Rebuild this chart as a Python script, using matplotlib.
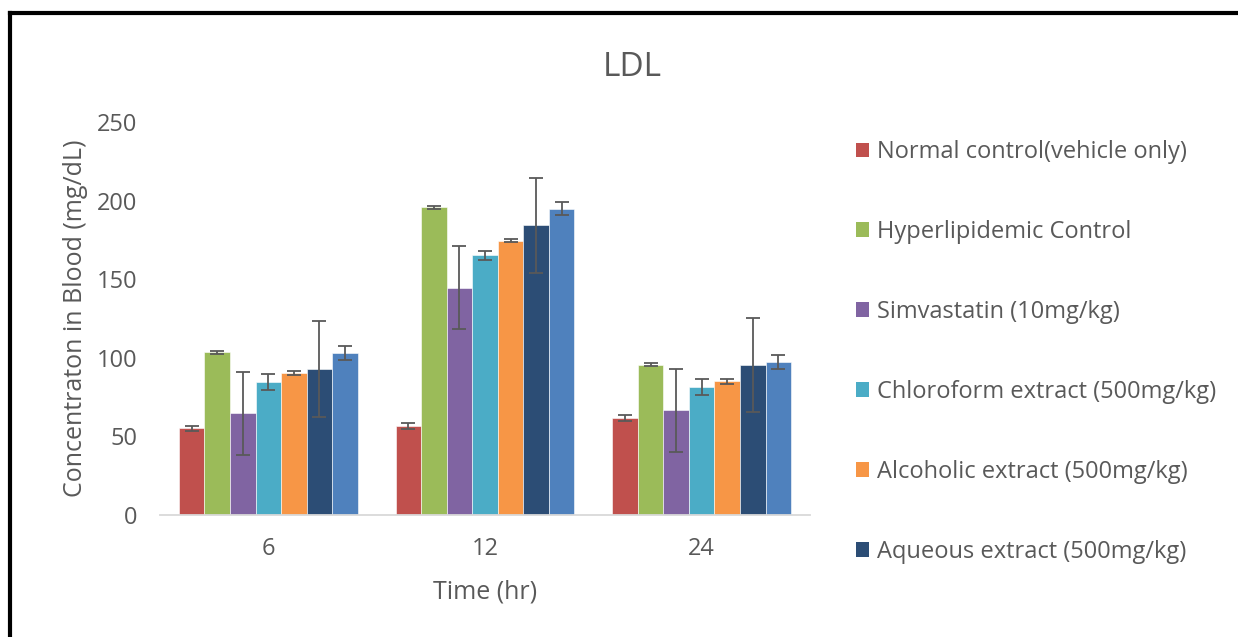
import numpy as np
import matplotlib.pyplot as plt
from matplotlib.patches import Patch
from matplotlib.lines import Line2D

plt.rcParams['font.family'] = ['Open Sans', 'DejaVu Sans']

times = ['6', '12', '24']
series_labels = [
    'Normal control(vehicle only)',
    'Hyperlipidemic Control',
    'Simvastatin (10mg/kg)',
    'Chloroform extract (500mg/kg)',
    'Alcoholic extract (500mg/kg)',
    'Aqueous extract (500mg/kg)',
]
colors = ['#C0504D', '#9BBB59', '#8064A2', '#4BACC6', '#F79646', '#2C4D75', '#4F81BD']

# mean LDL per group at 6, 12, 24 hr
normal = [55.2, 56.6, 61.5]
hyper = [103.5, 195.7, 95.6]
simva = [64.7, 144.7, 66.6]
chloro = [84.8, 165.1, 81.4]
alcohol = [90.1, 174.4, 85.0]
aqueous = [92.9, 184.2, 95.6]
seventh = [103.3, 194.9, 97.3]

# error (+/-)
normal_err = [1.7, 2.0, 1.8]
hyper_err = [1.0, 1.0, 1.0]
simva_err = [26.3, 26.4, 26.5]
chloro_err = [5.0, 3.0, 5.0]
alcohol_err = [1.3, 1.0, 1.4]
aqueous_err = [30.4, 30.3, 30.0]
seventh_err = [4.5, 4.3, 4.2]

means = [normal, hyper, simva, chloro, alcohol, aqueous, seventh]
errs = [normal_err, hyper_err, simva_err, chloro_err, alcohol_err, aqueous_err, seventh_err]

fig = plt.figure(figsize=(12.38, 6.37), dpi=100)
ax = fig.add_axes([160 / 1238, 1 - 515 / 637, 650 / 1238, 393 / 637])

x = np.arange(len(times))
w = 0.118
n = len(means)
for i in range(n):
    pos = x + (i - (n - 1) / 2) * w
    ax.bar(pos, means[i], w, color=colors[i], edgecolor='white', linewidth=0.4,
           yerr=errs[i], error_kw=dict(ecolor='#595959', elinewidth=1.3, capsize=5.2, capthick=1.3))

ax.set_ylim(0, 250)
ax.set_xlim(-0.5, 2.5)
ax.set_yticks([0, 50, 100, 150, 200, 250])
ax.set_xticks(x)
ax.set_xticklabels(times)
ax.tick_params(length=0, labelsize=17, labelcolor='#595959')
ax.tick_params(axis='x', pad=16)
ax.tick_params(axis='y', pad=16.5)
for s in ['top', 'right', 'left']:
    ax.spines[s].set_visible(False)
ax.spines['bottom'].set_color('#D9D9D9')
ax.spines['bottom'].set_linewidth(1.3)

ax.set_xlabel('Time (hr)', fontsize=18, color='#595959', labelpad=13)
ax.set_ylabel('Concentraton in Blood (mg/dL)', fontsize=18, color='#595959', labelpad=6)

fig.text(632 / 1238, 1 - 68 / 637, 'LDL', fontsize=24, color='#595959', ha='center', va='center')

handles = [Patch(facecolor=colors[i], edgecolor='none') for i in range(len(series_labels))]
leg = fig.legend(handles, series_labels, loc='upper left', bbox_to_anchor=(856 / 1238, 1 - 140 / 637),
                 frameon=False, fontsize=17, labelcolor='#595959', handlelength=0.55, handleheight=0.55,
                 handletextpad=0.35, labelspacing=2.37, borderpad=0, borderaxespad=0)

# outer frame (left and top edges visible)
fig.add_artist(Line2D([10 / 1238, 10 / 1238], [0, 1 - 13 / 637], transform=fig.transFigure, color='black', linewidth=3))
fig.add_artist(Line2D([10 / 1238, 1], [1 - 13 / 637, 1 - 13 / 637], transform=fig.transFigure, color='black', linewidth=3))

fig.savefig('out.png', dpi=100)
